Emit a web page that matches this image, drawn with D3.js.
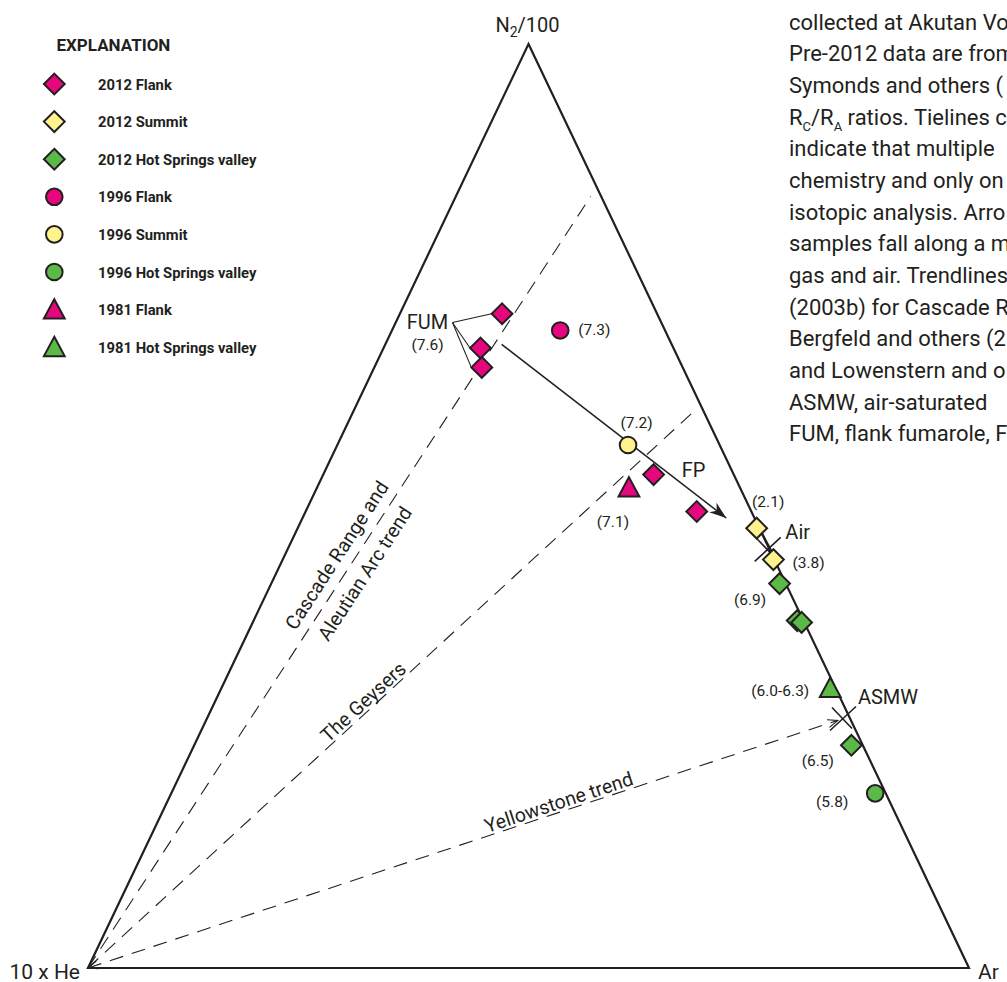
<!DOCTYPE html>
<html>
<head>
<meta charset="utf-8">
<script src="https://cdn.jsdelivr.net/npm/d3@7"></script>
<style>
  body { margin: 0; background: #fff; overflow: hidden; }
  svg { display: block; font-family: Roboto, "Liberation Sans", sans-serif; }
</style>
</head>
<body>
<div id="chart"></div>
<script>
// compositions: [N2/100, 10 x He, Ar] in percent
const legendNames = ["2012 Flank", "2012 Summit", "2012 Hot Springs valley", "1996 Flank",
  "1996 Summit", "1996 Hot Springs valley", "1981 Flank", "1981 Hot Springs valley"];

const flank2012 = [[70.8, 17.6, 11.6], [67.1, 21.9, 11.0], [65.0, 22.8, 12.2], [53.4, 9.1, 37.5], [49.4, 6.2, 44.4]];
const summit2012 = [[47.6, 0.3, 52.1], [44.2, 0.1, 55.7]];
const hsv2012 = [[41.6, 0.7, 57.7], [37.6, 0.7, 61.7], [37.4, 0.3, 62.3], [24.1, 1.3, 74.6]];
const flank1996 = [[69.0, 11.9, 19.1]];
const summit1996 = [[56.6, 10.4, 33.0]];
const hsv1996 = [[18.9, 1.2, 79.9]];
const flank1981 = [[52.0, 12.6, 35.4]];
const hsv1981 = [[30.3, 0.6, 69.1]];

const refNames = ["Air", "ASMW"];
const refPoints = [[45.3, 0.2, 54.5], [27.0, 0.8, 72.2]];

const trendNames = ["Cascade Range and\nAleutian Arc trend", "The Geysers", "Yellowstone trend"];
const trendEnds = [[83.5, 1.2, 15.3], [60.0, 1.5, 38.5], [26.8, 1.5, 71.7]];

// flank fumarole -> air mixing arrow
const mixStart = [67.5, 19.3, 13.2];
const mixEnd = [48.7, 3.2, 48.1];

const ratioLabels = ["(7.6)", "(7.3)", "(7.2)", "(7.1)", "(2.1)", "(3.8)", "(6.9)", "(6.0-6.3)", "(6.5)", "(5.8)"];

const vertexLabels = ["N2/100", "10 x He", "Ar"];

// caption block, cut by the right edge of the figure as in the original
const captionLines = [
  "collected at Akutan Vo",
  "Pre-2012 data are from",
  "Symonds and others (",
  "RC/RA ratios. Tielines co",
  "indicate that multiple",
  "chemistry and only on",
  "isotopic analysis. Arro",
  "samples fall along a m",
  "gas and air. Trendlines",
  "(2003b) for Cascade R",
  "Bergfeld and others (2",
  "and Lowenstern and o",
  "ASMW, air-saturated",
  "FUM, flank fumarole, F"
];

const W = 1007, H = 982;
const ink = "#231f20";
const colors = { flank: "#e6077f", summit: "#fff38e", hsv: "#5bb947" };

const svg = d3.select("#chart").append("svg")
  .attr("width", W)
  .attr("height", H)
  .style("background", "#fff");

const x = d3.scaleLinear().domain([0, 1]).range([88, 969]);
const y = d3.scaleLinear().domain([0, 1]).range([968, 44]);

function proj([n2, he, ar]) {
  const t = n2 + he + ar;
  const a = n2 / t, c = ar / t;
  return [x(c + a / 2), y(a)];
}

// symbol shapes
const diamond = { draw(ctx, size) { const r = Math.sqrt(size); ctx.moveTo(0, -r); ctx.lineTo(r, 0); ctx.lineTo(0, r); ctx.lineTo(-r, 0); ctx.closePath(); } };
const circle = { draw(ctx, size) { const r = Math.sqrt(size); ctx.moveTo(r, 0); ctx.arc(0, 0, r, 0, 2 * Math.PI); } };
const triangle = { draw(ctx, size) { const r = Math.sqrt(size); ctx.moveTo(0, -r); ctx.lineTo(r, r * 0.86); ctx.lineTo(-r, r * 0.86); ctx.closePath(); } };

const series = [
  { name: legendNames[0], data: flank2012, shape: diamond, size: 108, color: colors.flank },
  { name: legendNames[1], data: summit2012, shape: diamond, size: 108, color: colors.summit },
  { name: legendNames[2], data: hsv2012, shape: diamond, size: 108, color: colors.hsv },
  { name: legendNames[3], data: flank1996, shape: circle, size: 69, color: colors.flank },
  { name: legendNames[4], data: summit1996, shape: circle, size: 69, color: colors.summit },
  { name: legendNames[5], data: hsv1996, shape: circle, size: 69, color: colors.hsv },
  { name: legendNames[6], data: flank1981, shape: triangle, size: 108, color: colors.flank },
  { name: legendNames[7], data: hsv1981, shape: triangle, size: 108, color: colors.hsv }
];

const defs = svg.append("defs");
defs.append("marker")
  .attr("id", "barb")
  .attr("markerUnits", "userSpaceOnUse")
  .attr("viewBox", "-18 -7 20 14")
  .attr("markerWidth", 20).attr("markerHeight", 14)
  .attr("refX", 0).attr("refY", 0)
  .attr("orient", "auto")
  .append("path")
  .attr("d", "M0,0 L-17,-6 L-12,0 L-17,6 Z")
  .attr("fill", ink);
defs.append("marker")
  .attr("id", "small")
  .attr("markerUnits", "userSpaceOnUse")
  .attr("viewBox", "-12 -5 14 10")
  .attr("markerWidth", 14).attr("markerHeight", 10)
  .attr("refX", 0).attr("refY", 0)
  .attr("orient", "auto-start-reverse")
  .append("path")
  .attr("d", "M-10,-4 L0,0 L-10,4")
  .attr("fill", "none")
  .attr("stroke", ink)
  .attr("stroke-width", 1.1);

// trend lines from the He vertex
const heVertex = [0, 100, 0];
const trendLabelT = [0.523, 0.467, 0.632];
trendNames.forEach((name, i) => {
  const p0 = proj(heVertex), p1 = proj(trendEnds[i]);
  svg.append("line")
    .attr("x1", p0[0]).attr("y1", p0[1])
    .attr("x2", p1[0]).attr("y2", p1[1])
    .attr("stroke", ink)
    .attr("stroke-width", 1.1)
    .attr("stroke-dasharray", "14 9")
    .attr("marker-end", i === 2 ? "url(#small)" : null)
    .attr("marker-start", i === 2 ? "url(#small)" : null);

  const t = trendLabelT[i];
  const px = p0[0] + (p1[0] - p0[0]) * t;
  const py = p0[1] + (p1[1] - p0[1]) * t;
  const ang = Math.atan2(p1[1] - p0[1], p1[0] - p0[0]) * 180 / Math.PI;
  const g = svg.append("g").attr("transform", `translate(${px},${py}) rotate(${ang})`);
  const lines = name.split("\n");
  const base = lines.length === 1 ? [-3] : [-10, 23.5];
  lines.forEach((ln, k) => {
    g.append("text")
      .attr("y", base[k])
      .attr("text-anchor", "middle")
      .attr("font-size", 19.5)
      .attr("fill", ink)
      .text(ln);
  });
});

// ternary frame
const topV = proj([100, 0, 0]), leftV = proj([0, 100, 0]), rightV = proj([0, 0, 100]);
svg.append("path")
  .attr("d", d3.line()([topV, rightV, leftV]) + "Z")
  .attr("fill", "none")
  .attr("stroke", ink)
  .attr("stroke-width", 2.2)
  .attr("stroke-linejoin", "miter");

// mixing arrow
const m0 = proj(mixStart), m1 = proj(mixEnd);
svg.append("line")
  .attr("x1", m0[0]).attr("y1", m0[1])
  .attr("x2", m1[0]).attr("y2", m1[1])
  .attr("stroke", ink)
  .attr("stroke-width", 1.5)
  .attr("marker-end", "url(#barb)");

// tieline between the two summit samples
const s0 = proj(summit2012[0]), s1 = proj(summit2012[1]);
svg.append("line")
  .attr("x1", s0[0] + 3).attr("y1", s0[1])
  .attr("x2", s1[0] + 3).attr("y2", s1[1])
  .attr("stroke", ink).attr("stroke-width", 1.3);

// reference crosses
refPoints.forEach(p => {
  const [cx, cy] = proj(p);
  svg.append("path")
    .attr("d", `M${cx - 13},${cy + 12}L${cx + 13},${cy - 12}M${cx - 11},${cy - 11}L${cx + 9},${cy + 10}`)
    .attr("stroke", ink)
    .attr("stroke-width", 1.6)
    .attr("fill", "none");
});

// FUM leader lines
const fumOrigin = proj(flank2012[1]);
const fx = fumOrigin[0] - 28, fy = fumOrigin[1] - 25.5;
flank2012.slice(0, 3).forEach(p => {
  const [px, py] = proj(p);
  svg.append("line")
    .attr("x1", fx).attr("y1", fy)
    .attr("x2", px - 10.5).attr("y2", py)
    .attr("stroke", ink).attr("stroke-width", 1.1);
});

// data markers
series.forEach(s => {
  svg.append("g").selectAll("path")
    .data(s.data)
    .join("path")
    .attr("transform", d => `translate(${proj(d)})`)
    .attr("d", d3.symbol().type(s.shape).size(s.size))
    .attr("fill", s.color)
    .attr("stroke", ink)
    .attr("stroke-width", 2);
});

// point annotations: [text, anchor point, dx, dy, size, text-anchor]
const notes = [
  ["FUM", flank2012[1], -53, -26, 20, "middle"],
  [ratioLabels[0], flank2012[1], -53, -3.5, 15.5, "middle"],
  [ratioLabels[1], flank1996[0], 18, -1, 15.5, "start"],
  [ratioLabels[2], summit1996[0], 8.5, -22.5, 15.5, "middle"],
  [ratioLabels[3], flank1981[0], -16, 34.5, 15.5, "middle"],
  ["FP", flank2012[3], 40, -5, 20, "middle"],
  [ratioLabels[4], summit2012[0], 11.5, -26.5, 15.5, "middle"],
  [refNames[0], refPoints[0], 30, -17, 20, "middle"],
  [ratioLabels[5], summit2012[1], 19, 2.5, 15.5, "start"],
  [ratioLabels[6], hsv2012[0], -29.5, 16, 15.5, "middle"],
  [ratioLabels[7], hsv1981[0], -50, 2.5, 15.5, "middle"],
  [refNames[1], refPoints[1], 45, -21.5, 20, "middle"],
  [ratioLabels[8], hsv2012[3], -33.5, 15, 15.5, "middle"],
  [ratioLabels[9], hsv1996[0], -43, 8, 15.5, "middle"]
];
notes.forEach(([txt, p, dx, dy, fs, anchor]) => {
  const [px, py] = proj(p);
  svg.append("text")
    .attr("x", px + dx)
    .attr("y", py + dy)
    .attr("dy", "0.35em")
    .attr("text-anchor", anchor)
    .attr("font-size", fs)
    .attr("fill", ink)
    .text(txt);
});

// vertex labels
const nLab = svg.append("text")
  .attr("x", topV[0] - 1).attr("y", 31.5)
  .attr("text-anchor", "middle")
  .attr("font-size", 20)
  .attr("fill", ink);
nLab.append("tspan").text(vertexLabels[0].slice(0, 1));
nLab.append("tspan").attr("font-size", 14).attr("dy", 5).text(vertexLabels[0].slice(1, 2));
nLab.append("tspan").attr("dy", -5).text(vertexLabels[0].slice(2));

svg.append("text")
  .attr("x", leftV[0] - 8).attr("y", leftV[1] + 10.5)
  .attr("text-anchor", "end")
  .attr("font-size", 21)
  .attr("fill", ink)
  .text(vertexLabels[1]);
svg.append("text")
  .attr("x", rightV[0] + 9).attr("y", rightV[1] + 10.5)
  .attr("font-size", 21)
  .attr("fill", ink)
  .text(vertexLabels[2]);

// legend
const legend = svg.append("g").attr("font-weight", "bold").attr("fill", ink);
legend.append("text")
  .attr("x", 56.5).attr("y", 50.5)
  .attr("font-size", 17)
  .text("EXPLANATION");
series.forEach((s, i) => {
  const cy = 84 + i * 37.6;
  legend.append("path")
    .attr("transform", `translate(54.3,${cy})`)
    .attr("d", d3.symbol().type(s.shape).size(s.size))
    .attr("fill", s.color)
    .attr("stroke", ink)
    .attr("stroke-width", 2);
  legend.append("text")
    .attr("x", 98).attr("y", cy + 5.5)
    .attr("font-size", 14.8)
    .text(s.name);
});

// caption
const cap = svg.append("g").attr("font-size", 22).attr("fill", ink);
captionLines.forEach((ln, i) => {
  const t = cap.append("text").attr("x", 789).attr("y", 29.5 + i * 31.67);
  if (ln.startsWith("RC/RA")) {
    t.append("tspan").text("R");
    t.append("tspan").attr("font-size", 13).attr("dy", 6).text("C");
    t.append("tspan").attr("dy", -6).text("/R");
    t.append("tspan").attr("font-size", 13).attr("dy", 6).text("A");
    t.append("tspan").attr("dy", -6).text(ln.slice(5));
  } else {
    t.text(ln);
  }
});
</script>
</body>
</html>
